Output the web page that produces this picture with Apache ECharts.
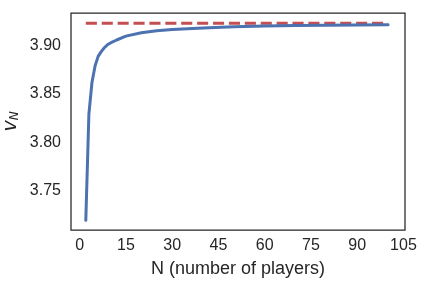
<!DOCTYPE html>
<html>
<head>
<meta charset="utf-8">
<script src="https://cdn.jsdelivr.net/npm/echarts@6/dist/echarts.min.js"></script>
<style>html,body{margin:0;padding:0;background:#fff;}#c{width:426px;height:284px;}</style>
</head>
<body>
<div id="c"></div>
<script>
const nValues = [2, 3, 4, 5, 6, 7, 8, 9, 10, 12, 15, 20, 25, 30, 40, 50, 60, 70, 80, 90, 100];
const vValues = [3.719, 3.829, 3.862, 3.879, 3.889, 3.894, 3.898, 3.901, 3.903, 3.906, 3.910, 3.9135, 3.9155, 3.9168, 3.9185, 3.9197, 3.9205, 3.921, 3.9213, 3.9215, 3.9217];
const limitValue = 3.9233;
const limitRange = [2, 100];
const xTicks = [0, 15, 30, 45, 60, 75, 90, 105];
const yTicks = [3.75, 3.80, 3.85, 3.90];

const chart = echarts.init(document.getElementById('c'), null, {renderer: 'canvas'});
const font = 'Liberation Sans, Arial, sans-serif';
chart.setOption({
  animation: false,
  backgroundColor: '#ffffff',
  grid: {left: 71, right: 21, top: 13, bottom: 54, outerBoundsMode: 'none', containLabel: false,
    show: true, borderColor: '#262626', borderWidth: 1.25, backgroundColor: 'transparent'},
  xAxis: {
    type: 'value', min: -2.8, max: 105.5,
    axisLine: {show: false}, axisTick: {show: false}, splitLine: {show: false},
    axisLabel: {customValues: xTicks, color: '#262626', fontSize: 16, fontFamily: font, margin: 8},
    name: 'N (number of players)', nameLocation: 'middle', nameGap: 30,
    nameTextStyle: {color: '#262626', fontSize: 18, fontFamily: font}
  },
  yAxis: {
    type: 'value', min: 3.709, max: 3.934,
    axisLine: {show: false}, axisTick: {show: false}, splitLine: {show: false},
    axisLabel: {customValues: yTicks, color: '#262626', fontSize: 16, fontFamily: font, margin: 10,
      formatter: v => v.toFixed(2)},
    name: '{v|v}{s|N}', nameLocation: 'middle', nameGap: 50, nameRotate: 90, nameMoveOverlap: false,
    nameTextStyle: {color: '#262626', rich: {
      v: {fontSize: 19, fontStyle: 'italic', fontFamily: 'DejaVu Sans', color: '#262626', verticalAlign: 'middle'},
      s: {fontSize: 12, fontStyle: 'italic', fontFamily: 'DejaVu Sans', color: '#262626', verticalAlign: 'bottom', padding: [2, 0, 0, 0]}
    }}
  },
  series: [
    {
      type: 'line', data: limitRange.map(n => [n, limitValue]), symbol: 'none',
      lineStyle: {color: '#c44e52', width: 3, type: [11.1, 4.8]}, z: 2
    },
    {
      type: 'line', data: nValues.map((n, i) => [n, vValues[i]]), symbol: 'none',
      lineStyle: {color: '#4c72b0', width: 3, cap: 'round', join: 'round'}, z: 3
    }
  ]
});
</script>
</body>
</html>
